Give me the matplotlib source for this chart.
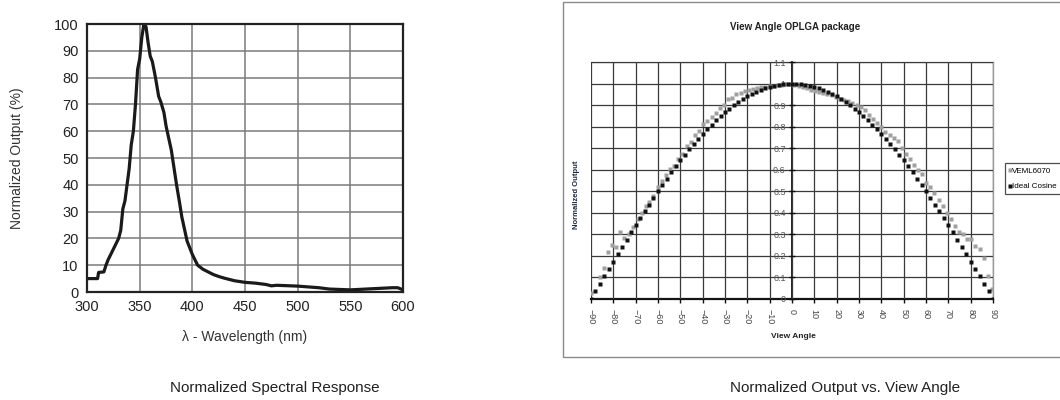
import matplotlib.pyplot as plt
import matplotlib.patches as patches
import numpy as np

plt.rcParams['font.family'] = ['Liberation Sans', 'DejaVu Sans']

# spectral response (left)
wl = [300, 310, 311, 316, 318, 320, 325, 330, 332, 334, 336, 338, 340, 342, 344,
      346, 348, 350, 352, 354, 356, 358, 360, 362, 365, 368, 370, 373, 375, 380,
      385, 388, 390, 395, 400, 405, 410, 415, 420, 425, 430, 440, 450, 460, 470,
      475, 480, 500, 520, 530, 550, 560, 580, 590, 595, 600]
resp = [5, 5, 7.3, 7.5, 10, 12, 16, 20, 23, 31, 34, 40, 46, 55, 60,
        70, 83, 87, 95, 100, 99, 93, 88, 86, 80, 73, 71, 67, 62, 53,
        40, 33, 28, 19, 14, 10, 8.5, 7.5, 6.5, 5.8, 5.2, 4.2, 3.6, 3.3, 2.8,
        2.3, 2.5, 2.2, 1.6, 1.1, 0.8, 1.0, 1.4, 1.6, 1.6, 0.8]

# view angle (right)
veml_angle = [-90, -86, -84.3, -82.5, -80.7, -79, -77, -75, -73, -71, -69, -67.3,
              -65.5, -63.8, -62, -60.2, -58.3, -56.5, -54.6, -52.8, -51, -49.1,
              -47.2, -45.4, -43.5, -41.6, -39.8, -38, -36, -34.2, -32.4, -30.5,
              -28.6, -26.8, -25, -23, -21.2, -19.4, -17.5, -15.6, -13.8, -12, -10,
              -8.2, -6.4, -4.5, -2.6, -0.8, 1, 3, 4.8, 6.6, 8.5, 10.3, 12.2, 14,
              15.9, 17.8, 19.6, 21.5, 23.3, 25.2, 27, 28.9, 30.7, 32.6, 34.4, 36.3,
              38.1, 40, 41.8, 43.7, 45.5, 47.4, 49.2, 51, 52.9, 54.7, 56.5, 58.3,
              60.2, 62, 63.8, 65.6, 67.4, 69.2, 71, 72.8, 74.6, 76.5, 78.4, 80.3,
              82.1, 84, 85.8, 87.7, 89.6]
veml_out = [0.03, 0.10, 0.145, 0.22, 0.25, 0.24, 0.31, 0.285, 0.30, 0.335, 0.37, 0.40,
            0.43, 0.45, 0.48, 0.52, 0.55, 0.575, 0.605, 0.615, 0.65, 0.675,
            0.71, 0.73, 0.76, 0.78, 0.81, 0.825, 0.845, 0.865, 0.885, 0.90,
            0.93, 0.935, 0.95, 0.955, 0.965, 0.97, 0.975, 0.98, 0.982, 0.985, 0.988,
            0.99, 0.992, 0.995, 0.998, 1.0, 0.995, 0.99, 0.985, 0.978, 0.972, 0.967,
            0.962, 0.957, 0.952, 0.945, 0.938, 0.93, 0.925, 0.918, 0.91, 0.90,
            0.89, 0.875, 0.855, 0.835, 0.815, 0.80, 0.775, 0.76, 0.745, 0.735,
            0.70, 0.675, 0.65, 0.62, 0.60, 0.58, 0.54, 0.52, 0.49, 0.46, 0.43,
            0.40, 0.37, 0.34, 0.31, 0.30, 0.28, 0.28, 0.246, 0.234, 0.19, 0.108, 0.045]

cos_angle = list(range(-90, 91, 2))
cos_out = [0.000, 0.035, 0.070, 0.105, 0.139, 0.174, 0.208, 0.242, 0.276, 0.309,
           0.342, 0.375, 0.407, 0.438, 0.469, 0.500, 0.530, 0.559, 0.588, 0.616,
           0.643, 0.669, 0.695, 0.719, 0.743, 0.766, 0.788, 0.809, 0.829, 0.848,
           0.866, 0.883, 0.899, 0.914, 0.927, 0.940, 0.951, 0.961, 0.970, 0.978,
           0.985, 0.990, 0.995, 0.998, 0.999, 1.000,
           0.999, 0.998, 0.995, 0.990, 0.985, 0.978, 0.970, 0.961, 0.951, 0.940,
           0.927, 0.914, 0.899, 0.883, 0.866, 0.848, 0.829, 0.809, 0.788, 0.766,
           0.743, 0.719, 0.695, 0.669, 0.643, 0.616, 0.588, 0.559, 0.530, 0.500,
           0.469, 0.438, 0.407, 0.375, 0.342, 0.309, 0.276, 0.242, 0.208, 0.174,
           0.139, 0.105, 0.070, 0.035, 0.000]

fig = plt.figure(figsize=(10.6, 4), dpi=100)

# ---- left chart
ax1 = fig.add_axes([0.0821, 0.27, 0.2981, 0.67])
ax1.plot(wl, resp, color='#1a1a1a', lw=2.3, zorder=3)
ax1.set_xlim(300, 600)
ax1.set_ylim(0, 100)
ax1.set_xticks(range(300, 601, 50))
ax1.set_yticks(range(0, 101, 10))
ax1.grid(True, color='#7a7a7a', lw=1.1)
ax1.tick_params(length=0, pad=6, labelsize=10.5, colors='#222')
for s in ax1.spines.values():
    s.set_linewidth(1.6)
    s.set_color('#222')
    s.set_zorder(4)
ax1.set_xlabel('λ - Wavelength (nm)', fontsize=10, color='#333', labelpad=11)
ax1.set_ylabel('Normalized Output (%)', fontsize=10, color='#333', labelpad=22)

# ---- right chart
frame = patches.Rectangle((563 / 1060, 43 / 400), 0.6, 355 / 400, transform=fig.transFigure,
                          fill=False, edgecolor='#8a8a8a', lw=1.0)
fig.add_artist(frame)

ax2 = fig.add_axes([0.5575, 0.2525, 0.3793, 0.5925])
ax2.plot(veml_angle, veml_out, ls='none', marker='s', ms=2.6, color='#a0a0a0',
         mec='none', label='VEML6070', zorder=3)
ax2.plot(cos_angle, cos_out, ls='none', marker='s', ms=3.3, color='#111',
         mec='none', label='Ideal Cosine', zorder=4)
ax2.set_xlim(-90, 90)
ax2.set_ylim(0, 1.1)
ax2.set_xticks(range(-90, 91, 10))
ax2.set_yticks(np.arange(0, 1.11, 0.1))
ax2.set_yticklabels(['0', '0.1', '0.2', '0.3', '0.4', '0.5', '0.6', '0.7', '0.8',
                     '0.9', '1', '1.1'])
ax2.grid(True, color='#3a3a3a', lw=0.9)
ax2.spines['left'].set_position(('data', 0))
ax2.spines['left'].set_color('#111')
ax2.spines['left'].set_linewidth(1.3)
ax2.spines['bottom'].set_color('#111')
ax2.spines['bottom'].set_linewidth(1.6)
for k in ['top', 'right']:
    ax2.spines[k].set_color('#9a9a9a')
    ax2.spines[k].set_linewidth(1.0)
ax2.tick_params(axis='x', direction='out', length=3, width=1, pad=4,
                labelsize=6.5, labelrotation=270, colors='#111', labelcolor='#444')
ax2.tick_params(axis='y', direction='inout', length=5, width=1, pad=2,
                labelsize=6.5, colors='#111', labelcolor='#555')
ax2.set_axisbelow(False)
fig.text(795 / 1060, 1 - 27 / 400, 'View Angle OPLGA package', ha='center', va='center',
         fontsize=7, fontweight='bold', color='#222')
fig.text(793 / 1060, 1 - 337 / 400, 'View Angle', ha='center', va='center',
         fontsize=6, fontweight='bold', color='#222')
fig.text(576 / 1060, 1 - 195 / 400, 'Normalized Output', ha='center', va='center',
         rotation=90, fontsize=5.5, fontweight='bold', color='#1f2940')
leg = ax2.legend(loc='upper left', bbox_to_anchor=(1005 / 1060, 1 - 163 / 400),
                 bbox_transform=fig.transFigure, fontsize=5.8, frameon=True,
                 fancybox=False, edgecolor='#222', handlelength=0.2,
                 handletextpad=0.15, borderpad=0.5, borderaxespad=0,
                 labelspacing=1.0, markerscale=0.9)
leg.get_frame().set_linewidth(0.9)

# captions
fig.text(275 / 1060, 1 - 388 / 400, 'Normalized Spectral Response', ha='center',
         va='center', fontsize=11, color='#222')
fig.text(845 / 1060, 1 - 388 / 400, 'Normalized Output vs. View Angle', ha='center',
         va='center', fontsize=11, color='#222')

fig.savefig('out.png', dpi=100)
